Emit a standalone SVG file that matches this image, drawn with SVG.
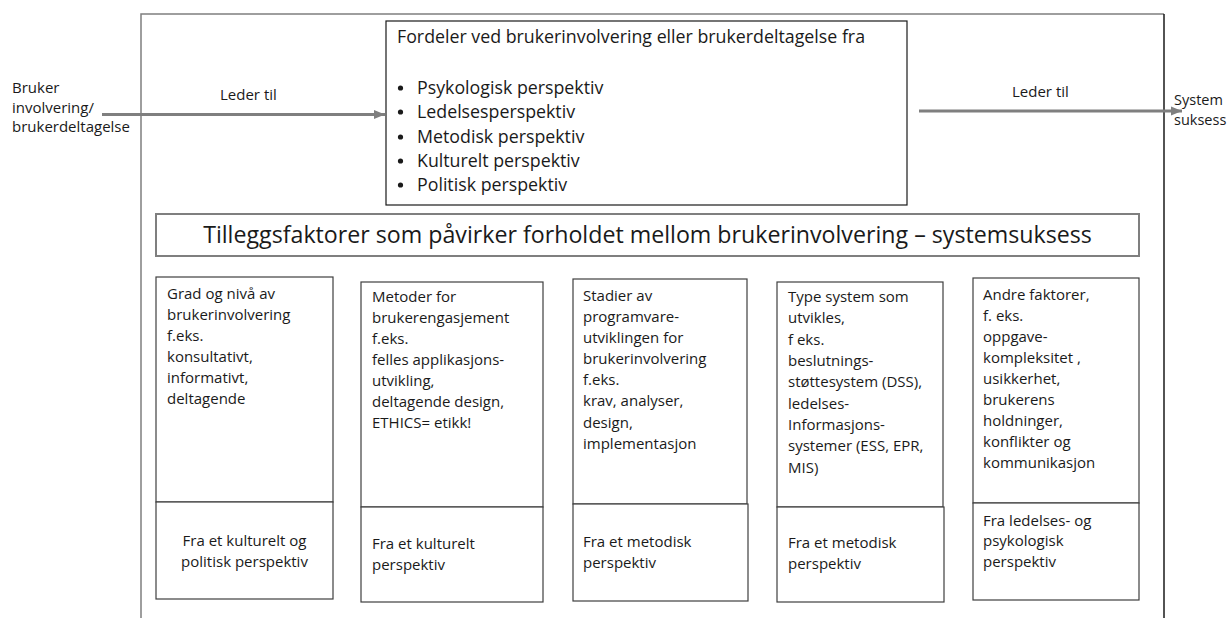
<svg xmlns="http://www.w3.org/2000/svg" width="1230" height="618" viewBox="0 0 1230 618">
  <style>
    text { font-family: "Open Sans", "Noto Sans", "Liberation Sans", sans-serif; fill: #1a1a1a; }
    .body { font-size: 15px; }
    .side { font-size: 14.5px; }
    .big { font-size: 17.8px; }
    .title { font-size: 23.2px; }
    .frame { fill: none; stroke: #7f7f7f; stroke-width: 1.5; }
    .box { fill: #ffffff; stroke: #3f3f3f; stroke-width: 1.2; }
    .topbox { fill: #ffffff; stroke: #1a1a1a; stroke-width: 1.2; }
    .titlebox { fill: #ffffff; stroke: #7f7f7f; stroke-width: 2; }
    .link { stroke: #7f7f7f; stroke-width: 3; fill: none; marker-end: url(#head); }
  </style>
  <defs>
    <marker id="head" markerUnits="userSpaceOnUse" markerWidth="12" markerHeight="12" viewBox="0 0 12 12" refX="11" refY="6" orient="auto">
      <path d="M0,1.5 L11,6 L0,10.5 Z" fill="#7f7f7f"/>
    </marker>
  </defs>

  <rect width="1230" height="618" fill="#ffffff"/>

  <!-- outer frame, open at the bottom -->
  <g id="frame">
    <path class="frame" d="M141,618 L141,14 L1164,14"/>
    <line x1="1164" y1="14" x2="1164" y2="618" stroke="#1a1a1a" stroke-width="1.5"/>
  </g>

  <!-- connectors -->
  <g id="connectors">
    <line class="link" x1="102" y1="114.5" x2="385" y2="114.5"/>
    <line class="link" x1="919" y1="111" x2="1182" y2="111"/>
    <text class="body" x="220" y="100">Leder til</text>
    <text class="body" x="1012" y="97">Leder til</text>
  </g>

  <g id="source">
    <text class="body" x="12" y="93">Bruker</text>
    <text class="body" x="12" y="113">involvering/</text>
    <text class="body" x="12" y="132">brukerdeltagelse</text>
  </g>

  <g id="target">
    <text class="side" x="1174" y="105">System</text>
    <text class="side" x="1174" y="125">suksess</text>
  </g>

  <g id="benefits">
    <rect class="topbox" x="386" y="21" width="521" height="184"/>
    <text class="big" x="397" y="43">Fordeler ved brukerinvolvering eller brukerdeltagelse fra</text>
    <g>
      <circle cx="400.5" cy="88" r="2.6" fill="#1a1a1a"/>
      <text class="big" x="417" y="94">Psykologisk perspektiv</text>
      <circle cx="400.5" cy="112" r="2.6" fill="#1a1a1a"/>
      <text class="big" x="417" y="118">Ledelsesperspektiv</text>
      <circle cx="400.5" cy="137" r="2.6" fill="#1a1a1a"/>
      <text class="big" x="417" y="143">Metodisk perspektiv</text>
      <circle cx="400.5" cy="161" r="2.6" fill="#1a1a1a"/>
      <text class="big" x="417" y="167">Kulturelt perspektiv</text>
      <circle cx="400.5" cy="185" r="2.6" fill="#1a1a1a"/>
      <text class="big" x="417" y="191">Politisk perspektiv</text>
    </g>
  </g>

  <g id="factors-title">
    <rect class="titlebox" x="156" y="214" width="983" height="42"/>
    <text class="title" x="647.5" y="243" text-anchor="middle">Tilleggsfaktorer som påvirker forholdet mellom brukerinvolvering – systemsuksess</text>
  </g>

  <g id="factor-degree">
    <rect class="box" x="156" y="277" width="177" height="225"/>
    <rect class="box" x="156" y="502" width="177" height="97"/>
    <text class="body" x="167" y="299">Grad og nivå av</text>
    <text class="body" x="167" y="320">brukerinvolvering</text>
    <text class="body" x="167" y="341">f.eks.</text>
    <text class="body" x="167" y="362">konsultativt,</text>
    <text class="body" x="167" y="383">informativt,</text>
    <text class="body" x="167" y="404">deltagende</text>
    <text class="body" x="244.5" y="546" text-anchor="middle">Fra et kulturelt og</text>
    <text class="body" x="244.5" y="567" text-anchor="middle">politisk perspektiv</text>
  </g>

  <g id="factor-methods">
    <rect class="box" x="361" y="282" width="182" height="225"/>
    <rect class="box" x="361" y="507" width="182" height="95"/>
    <text class="body" x="372" y="302">Metoder for</text>
    <text class="body" x="372" y="323">brukerengasjement</text>
    <text class="body" x="372" y="344">f.eks.</text>
    <text class="body" x="372" y="365">felles applikasjons-</text>
    <text class="body" x="372" y="386">utvikling,</text>
    <text class="body" x="372" y="407">deltagende design,</text>
    <text class="body" x="372" y="428">ETHICS= etikk!</text>
    <text class="body" x="372" y="549">Fra et kulturelt</text>
    <text class="body" x="372" y="570">perspektiv</text>
  </g>

  <g id="factor-stages">
    <rect class="box" x="573" y="279" width="174" height="225"/>
    <rect class="box" x="573" y="504" width="175" height="97"/>
    <text class="body" x="583" y="301">Stadier av</text>
    <text class="body" x="583" y="322">programvare-</text>
    <text class="body" x="583" y="343">utviklingen for</text>
    <text class="body" x="583" y="364">brukerinvolvering</text>
    <text class="body" x="583" y="385">f.eks.</text>
    <text class="body" x="583" y="406">krav, analyser,</text>
    <text class="body" x="583" y="428">design,</text>
    <text class="body" x="583" y="449">implementasjon</text>
    <text class="body" x="583" y="547">Fra et metodisk</text>
    <text class="body" x="583" y="568">perspektiv</text>
  </g>

  <g id="factor-systemtype">
    <rect class="box" x="777" y="282" width="166" height="225"/>
    <rect class="box" x="777" y="507" width="167" height="95"/>
    <text class="body" x="788" y="302">Type system som</text>
    <text class="body" x="788" y="323">utvikles,</text>
    <text class="body" x="788" y="345">f eks.</text>
    <text class="body" x="788" y="366">beslutnings-</text>
    <text class="body" x="788" y="387">støttesystem (DSS),</text>
    <text class="body" x="788" y="409">ledelses-</text>
    <text class="body" x="788" y="430">Informasjons-</text>
    <text class="body" x="788" y="451">systemer (ESS, EPR,</text>
    <text class="body" x="788" y="473">MIS)</text>
    <text class="body" x="788" y="548">Fra et metodisk</text>
    <text class="body" x="788" y="569">perspektiv</text>
  </g>

  <g id="factor-other">
    <rect class="box" x="973" y="278" width="166" height="225"/>
    <rect class="box" x="973" y="503" width="166" height="97"/>
    <text class="body" x="983" y="300">Andre faktorer,</text>
    <text class="body" x="983" y="321">f. eks.</text>
    <text class="body" x="983" y="342">oppgave-</text>
    <text class="body" x="983" y="363">kompleksitet ,</text>
    <text class="body" x="983" y="384">usikkerhet,</text>
    <text class="body" x="983" y="405">brukerens</text>
    <text class="body" x="983" y="426">holdninger,</text>
    <text class="body" x="983" y="447">konflikter og</text>
    <text class="body" x="983" y="468">kommunikasjon</text>
    <text class="body" x="983" y="526">Fra ledelses- og</text>
    <text class="body" x="983" y="546">psykologisk</text>
    <text class="body" x="983" y="567">perspektiv</text>
  </g>
</svg>
